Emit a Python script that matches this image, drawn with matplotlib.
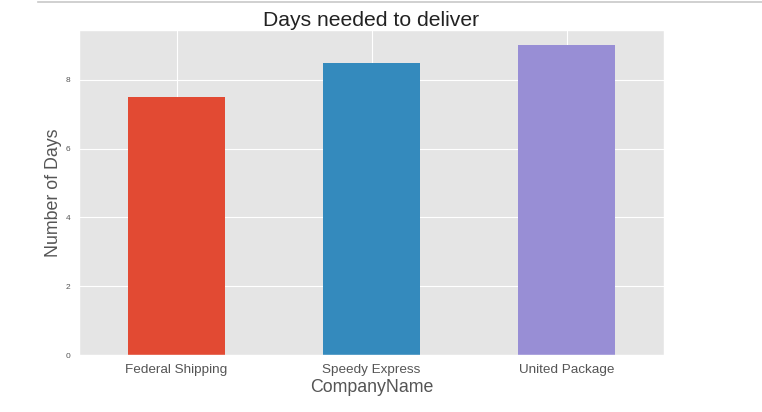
import matplotlib
matplotlib.use("Agg")
import matplotlib.pyplot as plt
from matplotlib.lines import Line2D

plt.style.use("ggplot")
plt.rcParams['font.family'] = ['Liberation Sans', 'DejaVu Sans']

companies = ["Federal Shipping", "Speedy Express", "United Package"]
days = [7.5, 8.5, 9.0]
colors = ["#E24A33", "#348ABD", "#988ED5"]

fig = plt.figure(figsize=(7.62, 4.12), dpi=100)
ax = fig.add_axes([79/762, 1-355/412, (664-79)/762, (355-30)/412])
x = range(len(companies))
ax.bar(x, days, width=0.5, color=colors)
ax.set_xticks(list(x))
ax.set_xticklabels(companies, fontsize=9.7, color="#555555")
ax.set_xlim(-0.5, 2.5)
ax.set_ylim(0, 9.45)
ax.set_yticks([0, 2, 4, 6, 8])
ax.tick_params(axis='y', labelsize=6, colors="#555555", length=0, pad=6.5)
ax.tick_params(axis='x', length=0, pad=6.5)
ax.set_title("Days needed to deliver", fontsize=15.2, pad=3, color="#222222")
ax.set_ylabel("Number of Days", fontsize=12.8, color="#555555", labelpad=2)
ax.set_xlabel("CompanyName", fontsize=12.8, color="#555555", labelpad=2)
fig.add_artist(Line2D([38/762, 1], [1-1.5/412, 1-1.5/412], color="#c8c8c8", lw=1.2, transform=fig.transFigure))
fig.savefig("out.png", dpi=100, facecolor="white")
